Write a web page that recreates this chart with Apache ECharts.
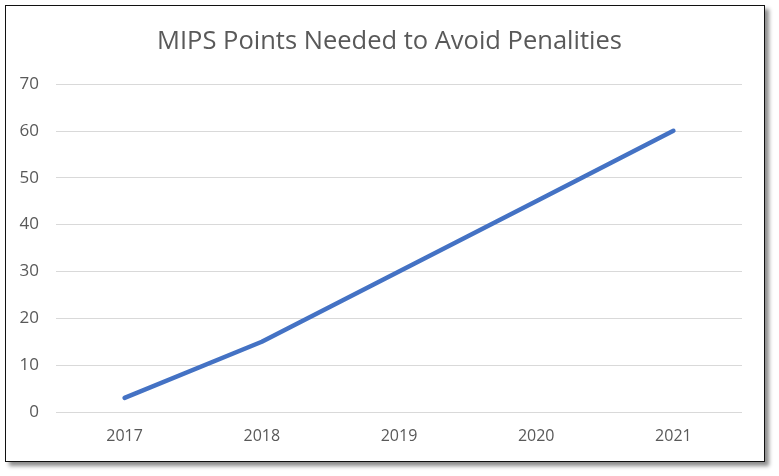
<!DOCTYPE html>
<html><head><meta charset="utf-8">
<script src="https://cdn.jsdelivr.net/npm/echarts@6/dist/echarts.min.js"></script>
<style>
html,body{margin:0;padding:0;background:#fff;}
#frame{position:absolute;left:5px;top:5px;width:758px;height:455px;border:1.5px solid #111;background:#fff;box-shadow:4px 4px 4px rgba(0,0,0,0.45);}
#chart{position:absolute;left:0;top:0;width:779px;height:476px;}
</style></head>
<body>
<div id="frame"></div>
<div id="chart"></div>
<script>
const categories = ['2017','2018','2019','2020','2021'];
const points = [3, 15, 30, 45, 60];
const titleText = 'MIPS Points Needed to Avoid Penalities';

const chart = echarts.init(document.getElementById('chart'));
chart.setOption({
  backgroundColor: 'transparent',
  animation: false,
  title: {
    text: titleText,
    left: 'center',
    top: 24,
    textStyle: {fontFamily: 'Open Sans', fontSize: 25.5, fontWeight: 'normal', color: '#595959'}
  },
  grid: {left: 56, right: 37, top: 84, bottom: 64},
  xAxis: {
    type: 'category',
    data: categories,
    boundaryGap: true,
    axisLine: {show: false},
    axisTick: {show: false},
    axisLabel: {fontFamily: 'Open Sans', fontSize: 16, color: '#595959', margin: 16}
  },
  yAxis: {
    type: 'value',
    min: 0, max: 70, interval: 10,
    axisLine: {show: false},
    axisTick: {show: false},
    splitLine: {lineStyle: {color: '#d9d9d9', width: 1.2}},
    axisLabel: {fontFamily: 'Open Sans', fontSize: 17, color: '#595959', margin: 17}
  },
  series: [{
    type: 'line',
    data: points,
    showSymbol: false,
    lineStyle: {color: '#4472C4', width: 4.5, cap: 'round'},
    itemStyle: {color: '#4472C4'}
  }]
});
</script>
</body></html>
